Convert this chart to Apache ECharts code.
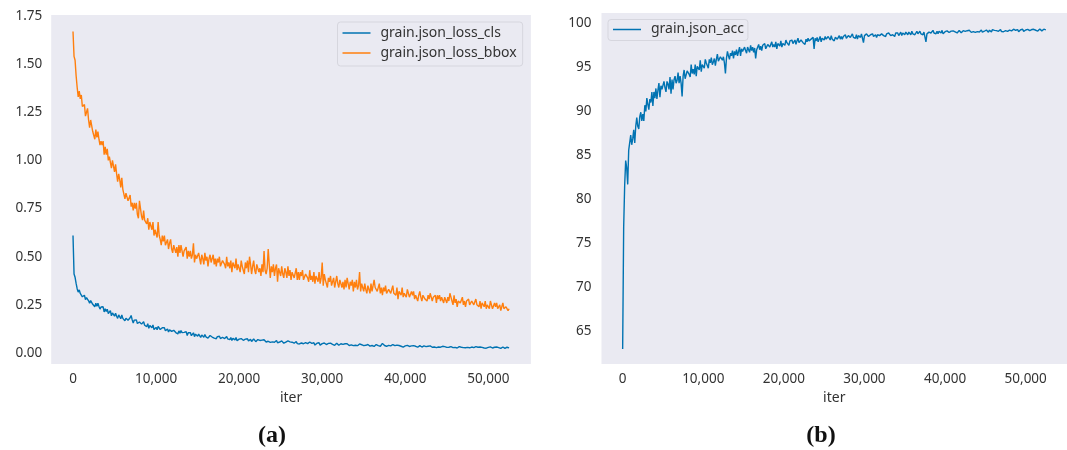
<!DOCTYPE html>
<html>
<head>
<meta charset="utf-8">
<script src="https://cdn.jsdelivr.net/npm/echarts@6/dist/echarts.min.js"></script>
<style>
  html, body { margin: 0; padding: 0; background: #fff; }
  #chart { width: 1067px; height: 450px; }
</style>
</head>
<body>
<div id="chart"></div>
<script>
  // logged every 125 iterations, 0 .. 52500
  const STEP = 125;
  const X_TICKS = [0, 10000, 20000, 30000, 40000, 50000];
  const LOSS_TICKS = [0, 0.25, 0.5, 0.75, 1.0, 1.25, 1.5, 1.75];
  const ACC_TICKS = [65, 70, 75, 80, 85, 90, 95, 100];

  const LOSS_CLS = [
    0.61, 0.41, 0.393, 0.361, 0.334, 0.316, 0.328, 0.309, 0.316, 0.292, 0.296, 0.30, 0.277, 0.288, 0.294, 0.271, 0.259, 0.272, 0.273, 0.253,
    0.258, 0.24, 0.259, 0.242, 0.258, 0.242, 0.228, 0.239, 0.229, 0.24, 0.213, 0.23, 0.216, 0.227, 0.205, 0.213, 0.22, 0.193, 0.208, 0.198,
    0.191, 0.206, 0.191, 0.18, 0.198, 0.19, 0.178, 0.198, 0.18, 0.187, 0.167, 0.181, 0.186, 0.17, 0.172, 0.183, 0.195, 0.172, 0.156, 0.171,
    0.163, 0.172, 0.153, 0.146, 0.161, 0.162, 0.15, 0.142, 0.162, 0.144, 0.149, 0.137, 0.152, 0.128, 0.143, 0.144, 0.131, 0.146, 0.122, 0.132,
    0.133, 0.121, 0.138, 0.128, 0.122, 0.114, 0.131, 0.121, 0.131, 0.115, 0.119, 0.125, 0.109, 0.12, 0.127, 0.112, 0.106, 0.118, 0.12, 0.106,
    0.112, 0.099, 0.115, 0.103, 0.117, 0.106, 0.097, 0.107, 0.101, 0.111, 0.091, 0.105, 0.096, 0.106, 0.09, 0.098, 0.105, 0.085, 0.098, 0.091,
    0.087, 0.098, 0.088, 0.081, 0.094, 0.089, 0.082, 0.096, 0.084, 0.09, 0.077, 0.087, 0.091, 0.081, 0.083, 0.091, 0.077, 0.085, 0.074, 0.085,
    0.08, 0.087, 0.075, 0.071, 0.082, 0.083, 0.075, 0.07, 0.085, 0.073, 0.077, 0.069, 0.08, 0.065, 0.076, 0.077, 0.068, 0.08, 0.064, 0.071,
    0.072, 0.065, 0.075, 0.07, 0.066, 0.062, 0.072, 0.067, 0.074, 0.063, 0.066, 0.071, 0.06, 0.067, 0.073, 0.064, 0.059, 0.068, 0.07, 0.06,
    0.065, 0.057, 0.067, 0.06, 0.069, 0.063, 0.057, 0.064, 0.061, 0.067, 0.055, 0.065, 0.058, 0.065, 0.056, 0.062, 0.065, 0.053, 0.062, 0.057,
    0.055, 0.063, 0.056, 0.051, 0.061, 0.057, 0.051, 0.063, 0.054, 0.058, 0.048, 0.056, 0.059, 0.051, 0.053, 0.06, 0.049, 0.055, 0.047, 0.056,
    0.052, 0.057, 0.048, 0.045, 0.054, 0.055, 0.049, 0.045, 0.057, 0.047, 0.05, 0.045, 0.053, 0.041, 0.05, 0.051, 0.044, 0.053, 0.041, 0.047,
    0.049, 0.043, 0.052, 0.048, 0.044, 0.04, 0.05, 0.045, 0.051, 0.042, 0.045, 0.048, 0.04, 0.046, 0.051, 0.043, 0.04, 0.047, 0.048, 0.041,
    0.045, 0.038, 0.048, 0.042, 0.048, 0.043, 0.039, 0.045, 0.042, 0.048, 0.038, 0.045, 0.04, 0.046, 0.038, 0.043, 0.047, 0.037, 0.043, 0.04,
    0.038, 0.046, 0.04, 0.036, 0.044, 0.041, 0.036, 0.046, 0.039, 0.042, 0.034, 0.041, 0.044, 0.037, 0.038, 0.044, 0.035, 0.041, 0.05, 0.042,
    0.039, 0.044, 0.035, 0.033, 0.04, 0.042, 0.037, 0.034, 0.044, 0.036, 0.038, 0.033, 0.041, 0.031, 0.039, 0.04, 0.035, 0.042, 0.031, 0.037,
    0.037, 0.033, 0.04, 0.036, 0.034, 0.031, 0.037, 0.034, 0.038, 0.033, 0.035, 0.037, 0.03, 0.035, 0.038, 0.033, 0.031, 0.036, 0.037, 0.032,
    0.033, 0.029, 0.035, 0.031, 0.037, 0.033, 0.03, 0.034, 0.031, 0.035, 0.028, 0.034, 0.031, 0.035, 0.03, 0.032, 0.035, 0.028, 0.033, 0.031,
    0.029, 0.034, 0.03, 0.027, 0.033, 0.031, 0.028, 0.034, 0.029, 0.032, 0.026, 0.031, 0.033, 0.028, 0.03, 0.033, 0.028, 0.031, 0.027, 0.031,
    0.029, 0.032, 0.027, 0.025, 0.031, 0.031, 0.028, 0.026, 0.033, 0.028, 0.03, 0.027, 0.031, 0.024, 0.029, 0.03, 0.026, 0.031, 0.025, 0.028,
    0.029, 0.025, 0.032, 0.028, 0.026, 0.024, 0.03, 0.027, 0.031, 0.026, 0.028, 0.03, 0.024, 0.028, 0.031, 0.026, 0.024, 0.029, 0.03, 0.025,
    0.027
  ];

  const LOSS_BBOX = [
    1.67, 1.54, 1.52, 1.44, 1.38, 1.33, 1.36, 1.32, 1.34, 1.28, 1.28, 1.29, 1.23, 1.25, 1.27, 1.21, 1.17, 1.21, 1.21, 1.15,
    1.16, 1.11, 1.16, 1.12, 1.15, 1.11, 1.08, 1.10, 1.08, 1.10, 1.03, 1.07, 1.03, 1.06, 1.00, 1.02, 1.03, 0.96, 1.00, 0.97,
    0.94, 0.98, 0.93, 0.89, 0.93, 0.90, 0.86, 0.91, 0.85, 0.86, 0.80, 0.83, 0.83, 0.79, 0.79, 0.82, 0.76, 0.78, 0.74, 0.78,
    0.75, 0.78, 0.72, 0.70, 0.79, 0.75, 0.71, 0.69, 0.74, 0.69, 0.70, 0.67, 0.70, 0.64, 0.68, 0.68, 0.64, 0.68, 0.61, 0.64,
    0.64, 0.60, 0.68, 0.61, 0.59, 0.56, 0.61, 0.58, 0.61, 0.56, 0.57, 0.59, 0.54, 0.57, 0.59, 0.54, 0.52, 0.56, 0.57, 0.52,
    0.55, 0.50, 0.56, 0.52, 0.56, 0.53, 0.50, 0.53, 0.52, 0.55, 0.49, 0.53, 0.50, 0.53, 0.49, 0.51, 0.57, 0.47, 0.51, 0.49,
    0.48, 0.52, 0.49, 0.46, 0.51, 0.49, 0.46, 0.52, 0.48, 0.50, 0.45, 0.49, 0.51, 0.47, 0.48, 0.51, 0.46, 0.49, 0.45, 0.49,
    0.47, 0.50, 0.45, 0.44, 0.48, 0.49, 0.46, 0.44, 0.50, 0.45, 0.47, 0.44, 0.48, 0.42, 0.47, 0.47, 0.44, 0.49, 0.43, 0.46,
    0.46, 0.42, 0.48, 0.45, 0.43, 0.41, 0.47, 0.44, 0.48, 0.42, 0.50, 0.46, 0.41, 0.45, 0.48, 0.43, 0.41, 0.46, 0.47, 0.42,
    0.44, 0.40, 0.46, 0.42, 0.53, 0.43, 0.41, 0.44, 0.54, 0.46, 0.39, 0.45, 0.42, 0.46, 0.40, 0.44, 0.46, 0.37, 0.44, 0.42,
    0.40, 0.45, 0.41, 0.39, 0.44, 0.42, 0.39, 0.45, 0.40, 0.43, 0.38, 0.42, 0.43, 0.39, 0.40, 0.44, 0.38, 0.42, 0.38, 0.42,
    0.40, 0.43, 0.38, 0.37, 0.41, 0.42, 0.39, 0.37, 0.43, 0.38, 0.40, 0.37, 0.42, 0.36, 0.40, 0.41, 0.37, 0.42, 0.36, 0.39,
    0.47, 0.35, 0.41, 0.38, 0.36, 0.34, 0.39, 0.37, 0.40, 0.35, 0.37, 0.39, 0.34, 0.37, 0.40, 0.36, 0.34, 0.38, 0.39, 0.34,
    0.37, 0.33, 0.38, 0.34, 0.39, 0.36, 0.33, 0.37, 0.35, 0.38, 0.32, 0.37, 0.34, 0.38, 0.33, 0.35, 0.42, 0.32, 0.36, 0.34,
    0.32, 0.36, 0.33, 0.31, 0.35, 0.34, 0.31, 0.36, 0.32, 0.35, 0.38, 0.34, 0.35, 0.32, 0.33, 0.36, 0.31, 0.34, 0.30, 0.34,
    0.32, 0.35, 0.31, 0.30, 0.33, 0.34, 0.31, 0.30, 0.35, 0.31, 0.32, 0.30, 0.34, 0.28, 0.32, 0.33, 0.30, 0.34, 0.29, 0.31,
    0.31, 0.29, 0.33, 0.31, 0.29, 0.28, 0.32, 0.30, 0.32, 0.28, 0.30, 0.31, 0.27, 0.30, 0.32, 0.29, 0.27, 0.30, 0.31, 0.28,
    0.29, 0.27, 0.30, 0.28, 0.31, 0.29, 0.27, 0.29, 0.28, 0.30, 0.26, 0.30, 0.28, 0.30, 0.27, 0.29, 0.30, 0.26, 0.29, 0.28,
    0.26, 0.29, 0.27, 0.31, 0.29, 0.27, 0.25, 0.30, 0.26, 0.28, 0.24, 0.27, 0.28, 0.26, 0.26, 0.29, 0.25, 0.27, 0.24, 0.27,
    0.26, 0.28, 0.25, 0.24, 0.27, 0.27, 0.25, 0.24, 0.28, 0.25, 0.26, 0.24, 0.27, 0.23, 0.26, 0.26, 0.24, 0.27, 0.23, 0.25,
    0.25, 0.23, 0.27, 0.25, 0.23, 0.22, 0.26, 0.24, 0.26, 0.23, 0.24, 0.25, 0.22, 0.24, 0.26, 0.23, 0.22, 0.24, 0.25, 0.22,
    0.23
  ];

  const ACC = [
    63.0, 76.8, 81.6, 84.4, 83.6, 81.7, 85.6, 85.5, 87.3, 86.2, 86.9, 87.9, 86.4, 88.3, 89.3, 88.3, 88.0, 89.4, 89.9, 88.9,
    89.7, 88.9, 90.7, 90.0, 91.5, 90.8, 90.2, 91.4, 91.0, 92.2, 90.6, 92.2, 91.5, 92.6, 91.4, 92.4, 93.2, 91.6, 92.9, 92.5,
    92.3, 93.4, 92.7, 92.2, 93.4, 93.1, 92.5, 93.9, 92.0, 93.6, 92.5, 93.6, 94.0, 93.2, 93.5, 94.4, 93.2, 94.0, 93.2, 91.7,
    94.0, 94.7, 93.7, 93.5, 94.6, 94.8, 94.2, 93.9, 95.3, 94.3, 94.8, 94.2, 95.3, 94.0, 95.1, 95.3, 94.7, 95.8, 94.5, 95.3,
    95.5, 94.9, 95.9, 95.5, 95.2, 94.9, 95.9, 95.5, 96.1, 95.3, 95.6, 96.0, 95.2, 95.9, 96.5, 95.7, 95.5, 96.2, 96.4, 95.8,
    96.2, 95.5, 94.3, 96.0, 96.8, 96.3, 95.9, 96.6, 96.3, 96.9, 96.0, 96.8, 96.4, 97.0, 96.3, 96.8, 97.3, 96.3, 97.1, 96.8,
    96.7, 97.3, 96.9, 96.6, 97.3, 97.0, 96.7, 97.5, 96.9, 97.3, 96.7, 97.2, 96.0, 97.0, 97.1, 97.6, 97.0, 97.4, 96.9, 97.5,
    97.3, 97.7, 97.1, 97.0, 97.6, 97.7, 97.3, 97.1, 97.9, 97.3, 97.6, 97.3, 97.9, 97.1, 97.7, 97.8, 97.4, 98.0, 97.3, 97.7,
    97.9, 97.5, 98.1, 97.8, 97.6, 97.5, 98.0, 97.8, 98.1, 97.7, 97.8, 98.1, 97.6, 98.0, 98.3, 97.8, 97.6, 98.1, 98.2, 97.8,
    98.0, 97.6, 98.2, 97.9, 98.3, 98.0, 97.8, 98.2, 98.0, 98.4, 97.1, 98.3, 98.0, 98.4, 97.9, 98.2, 98.5, 97.9, 98.3, 98.2,
    98.1, 98.5, 98.2, 98.0, 98.5, 98.3, 98.1, 98.6, 98.2, 98.4, 98.0, 98.4, 98.6, 98.2, 98.3, 98.6, 98.2, 98.5, 98.2, 98.5,
    98.4, 98.7, 98.3, 98.2, 98.6, 98.6, 98.4, 98.3, 98.8, 98.4, 98.5, 98.3, 98.7, 98.2, 98.6, 98.7, 98.4, 98.8, 98.3, 97.8,
    98.6, 98.4, 98.8, 98.6, 98.5, 98.4, 98.7, 98.6, 98.8, 98.5, 98.6, 98.7, 98.4, 98.7, 98.9, 98.6, 98.5, 98.8, 98.8, 98.6,
    98.7, 98.5, 98.8, 98.6, 98.9, 98.7, 98.6, 98.8, 98.7, 98.9, 98.5, 98.9, 98.7, 98.9, 98.6, 98.8, 99.0, 98.6, 98.9, 98.8,
    98.7, 99.0, 98.8, 98.7, 99.0, 98.9, 98.7, 99.1, 98.8, 99.0, 98.7, 98.9, 99.1, 98.8, 98.9, 99.1, 98.8, 99.0, 98.7, 99.0,
    98.9, 97.9, 98.8, 98.7, 99.0, 99.1, 98.9, 98.8, 99.2, 98.9, 99.0, 98.8, 99.1, 98.8, 99.1, 99.1, 98.9, 99.2, 98.8, 99.0,
    99.05, 98.90, 99.14, 99.02, 98.95, 98.87, 99.11, 98.99, 99.14, 98.94, 99.02, 99.11, 98.90, 99.07, 99.19, 99.00, 98.93, 99.11, 99.16, 98.98,
    99.08, 98.91, 99.16, 99.01, 99.21, 99.08, 98.97, 99.13, 99.05, 99.21, 98.96, 99.17, 99.05, 99.20, 99.01, 99.14, 99.24, 98.99, 99.17, 99.10,
    99.05, 99.24, 99.09, 98.99, 99.22, 99.15, 99.03, 99.28, 99.09, 99.20, 98.99, 99.17, 99.25, 99.09, 99.13, 99.29, 99.06, 99.20, 99.04, 99.23,
    99.16, 99.28, 99.09, 99.03, 99.23, 99.26, 99.14, 99.07, 99.33, 99.13, 99.21, 99.09, 99.29, 99.04, 99.23, 99.27, 99.13, 99.33, 99.08, 99.21,
    99.24, 99.12, 99.31, 99.22, 99.16, 99.09, 99.29, 99.19, 99.32, 99.15, 99.21, 99.29, 99.12, 99.26, 99.36, 99.20, 99.14, 99.29, 99.33, 99.19,
    99.26
  ];

  const BLUE = '#0173b2';
  const ORANGE = '#ff7f0e';
  const TXT = '#333';
  const FONT = 'Noto Sans';

  const toXY = vals => vals.map((v, i) => [i * STEP, v]);
  const thousands = v => String(v).replace(/\B(?=(\d{3})+(?!\d))/g, ',');

  function xAxisFor(idx) {
    return {
      gridIndex: idx,
      type: 'value',
      min: -2625,
      max: 55125,
      name: 'iter',
      nameLocation: 'middle',
      nameGap: 27,
      nameTextStyle: { color: TXT, fontSize: 14, fontFamily: FONT },
      axisLine: { show: false },
      axisTick: { show: false },
      splitLine: { show: false },
      axisLabel: {
        customValues: X_TICKS,
        formatter: thousands,
        color: TXT, fontSize: 13.5, fontFamily: FONT, margin: 8
      }
    };
  }

  const legendBase = {
    orient: 'vertical',
    icon: 'rect',
    itemWidth: 28,
    itemHeight: 1.5,
    itemGap: 6,
    backgroundColor: '#eaeaf2',
    borderColor: '#d6d6de',
    borderWidth: 1,
    borderRadius: 3,
    textStyle: { color: TXT, fontSize: 14, fontFamily: FONT, padding: [0, 0, 0, 5] }
  };

  const option = {
    animation: false,
    backgroundColor: '#fff',
    grid: [
      { left: 51.2, top: 15, width: 479.7, height: 349, show: true, backgroundColor: '#eaeaf2', borderWidth: 0 },
      { left: 601.5, top: 13, width: 473.6, height: 351, show: true, backgroundColor: '#eaeaf2', borderWidth: 0 }
    ],
    xAxis: [xAxisFor(0), xAxisFor(1)],
    yAxis: [
      {
        gridIndex: 0, type: 'value', min: -0.0571, max: 1.7552,
        axisLine: { show: false }, axisTick: { show: false }, splitLine: { show: false },
        axisLabel: {
          customValues: LOSS_TICKS, formatter: v => v.toFixed(2),
          color: TXT, fontSize: 13.5, fontFamily: FONT, margin: 9
        }
      },
      {
        gridIndex: 1, type: 'value', min: 61.3, max: 101.17,
        axisLine: { show: false }, axisTick: { show: false }, splitLine: { show: false },
        axisLabel: {
          customValues: ACC_TICKS,
          color: TXT, fontSize: 13.5, fontFamily: FONT, margin: 10
        }
      }
    ],
    legend: [
      Object.assign({}, legendBase, {
        data: ['grain.json_loss_cls', 'grain.json_loss_bbox'],
        left: 337.5, top: 22, padding: [4, 6, 6, 5]
      }),
      Object.assign({}, legendBase, {
        data: ['grain.json_acc'],
        left: 608, top: 19.5, padding: [3, 4, 4, 5]
      })
    ],
    series: [
      {
        name: 'grain.json_loss_cls', type: 'line', xAxisIndex: 0, yAxisIndex: 0,
        data: toXY(LOSS_CLS), showSymbol: false, color: BLUE,
        lineStyle: { width: 1.4, color: BLUE }
      },
      {
        name: 'grain.json_loss_bbox', type: 'line', xAxisIndex: 0, yAxisIndex: 0,
        data: toXY(LOSS_BBOX), showSymbol: false, color: ORANGE,
        lineStyle: { width: 1.4, color: ORANGE }
      },
      {
        name: 'grain.json_acc', type: 'line', xAxisIndex: 1, yAxisIndex: 1,
        data: toXY(ACC), showSymbol: false, color: BLUE,
        lineStyle: { width: 1.4, color: BLUE }
      }
    ],
    graphic: [
      {
        type: 'text', x: 272, y: 436,
        style: { text: '(a)', fontSize: 24, fontWeight: 'bold', fontFamily: 'Liberation Serif', fill: '#111', align: 'center', verticalAlign: 'middle' }
      },
      {
        type: 'text', x: 821, y: 436,
        style: { text: '(b)', fontSize: 24, fontWeight: 'bold', fontFamily: 'Liberation Serif', fill: '#111', align: 'center', verticalAlign: 'middle' }
      }
    ]
  };

  const chart = echarts.init(document.getElementById('chart'));
  chart.setOption(option);
</script>
</body>
</html>
